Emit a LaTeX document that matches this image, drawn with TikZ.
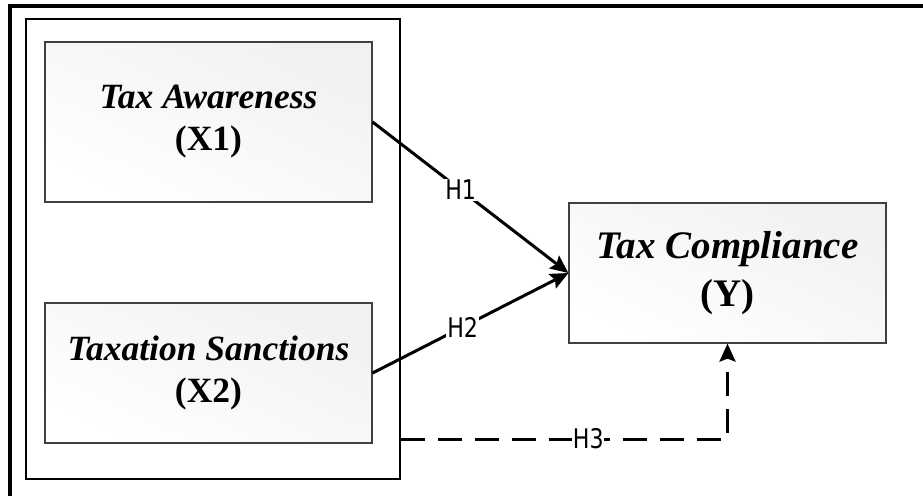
\documentclass[tikz,border=0pt]{standalone}
\usepackage{fontspec}
\setmainfont{Liberation Serif}
\newfontfamily\hfont[FakeStretch=0.82]{DejaVu Sans}
\usetikzlibrary{arrows.meta}
\tikzset{
  varbox/.style={draw=black!75, line width=1.2pt, top color=gray!11, bottom color=white,
    shading angle=-25, align=center, inner sep=0pt},
  xfont/.style={font=\bfseries\itshape\fontsize{35.5}{42}\selectfont},
  yfont/.style={font=\bfseries\itshape\fontsize{39}{48}\selectfont},
  link/.style={line width=3pt, -{Stealth[length=18pt,width=16pt,inset=3pt]}},
  dlink/.style={link, dash pattern=on 24pt off 13pt},
  hlabel/.style={fill=white, inner sep=1pt, font=\hfont\fontsize{27}{30}\selectfont},
  frame/.style={draw=black, line width=1.1pt}
}
\begin{document}
\begin{tikzpicture}[x=1pt,y=-1pt]
\useasboundingbox (0,0) rectangle (923,495);
\clip (0,0) rectangle (923,495);
\fill[white] (0,0) rectangle (923,495);
% outer frame (only top and left visible)
\draw[line width=4pt] (10,520) |- (950,6);
% group frame
\node[frame, minimum width=374pt, minimum height=460pt, inner sep=0pt] (grp) at (213,249) {};
% variables
\node[varbox, xfont, minimum width=327pt, minimum height=160pt] (x1) at (208.5,122)
  {Tax Awareness\\\upshape (X1)};
\node[varbox, xfont, minimum width=327pt, minimum height=140pt] (x2) at (208.5,373)
  {Taxation Sanctions\\\upshape (X2)};
\node[varbox, yfont, minimum width=317pt, minimum height=140pt] (y) at (727.5,273)
  {Tax Compliance\\\upshape (Y)};
% connectors
\draw[link] (x1.east) -- node[hlabel, pos=0.45] {H1} (y.west);
\draw[link] (x2.east) -- node[hlabel, pos=0.46] {H2} (y.west);
\coordinate (h3s) at (grp.east |- 0,439);
\draw[dlink] (h3s) -| node[hlabel, pos=0.287, inner sep=0.5pt] {H3} (y.south);
\end{tikzpicture}
\end{document}
